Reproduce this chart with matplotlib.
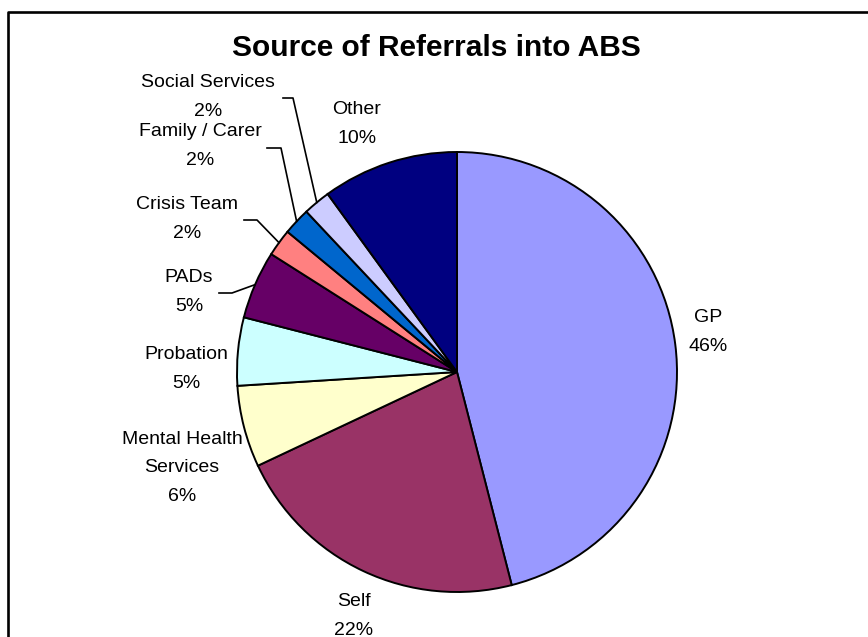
import numpy as np
import matplotlib
matplotlib.use("Agg")
import matplotlib.pyplot as plt

# referral sources, clockwise from 12 o'clock
sources = ["GP", "Self", "Mental Health\nServices", "Probation", "PADs",
           "Crisis Team", "Family / Carer", "Social Services", "Other"]
percent = [46, 22, 6, 5, 5, 2, 2, 2, 10]
colours = ["#9999FF", "#993366", "#FFFFCC", "#CCFFFF", "#660066",
           "#FF8080", "#0066CC", "#CCCCFF", "#000080"]

W, H = 868, 637
plt.rcParams["font.family"] = ["Liberation Sans", "DejaVu Sans"]

fig = plt.figure(figsize=(W / 100, H / 100), dpi=100)
ax = fig.add_axes([0, 0, 1, 1])

cx, cy, r = 457, H - 372, 220
ax.pie(percent, colors=colours, startangle=90, counterclock=False,
       center=(cx, cy), radius=r, frame=True,
       wedgeprops=dict(edgecolor="black", linewidth=1.4))
ax.set_xlim(0, W)
ax.set_ylim(0, H)
ax.set_aspect("equal")
ax.axis("off")

# label block centres (pixels from top-left) and optional leader start
label_pos = {
    "GP": (708, 332, None),
    "Self": (354, 616, None),
    "Mental Health\nServices": (182, 468, None),
    "Probation": (186, 369, None),
    "PADs": (189, 292, ((219, 293), (232, 293))),
    "Crisis Team": (187, 219, ((244, 220), (257, 220))),
    "Family / Carer": (200, 146, ((267, 148), (281, 148))),
    "Social Services": (208, 97, ((283, 98), (293, 98))),
    "Other": (357, 124, None),
}

start = 90.0
for name, p in zip(sources, percent):
    span = p / 100 * 360
    mid = np.radians(start - span / 2)
    start -= span
    x, y, leader = label_pos[name]
    ax.text(x, H - y, f"{name}\n{p}%", ha="center", va="center",
            fontsize=14, linespacing=1.85, color="black")
    if leader:
        (x0, y0), (x1, y1) = leader
        ex, ey = cx + r * np.cos(mid), cy + r * np.sin(mid)
        ax.plot([x0, x1, ex], [H - y0, H - y1, ey], color="black", lw=1.2)

ax.text(436, H - 48, "Source of Referrals into ABS", ha="center", va="center",
        fontsize=21.5, fontweight="bold")

# chart border, runs off the right and bottom of the image
ax.plot([8, 8, W + 10], [-10, H - 12, H - 12], color="black", lw=1.9,
        solid_capstyle="projecting", clip_on=False)

fig.savefig("out.png", dpi=100)
